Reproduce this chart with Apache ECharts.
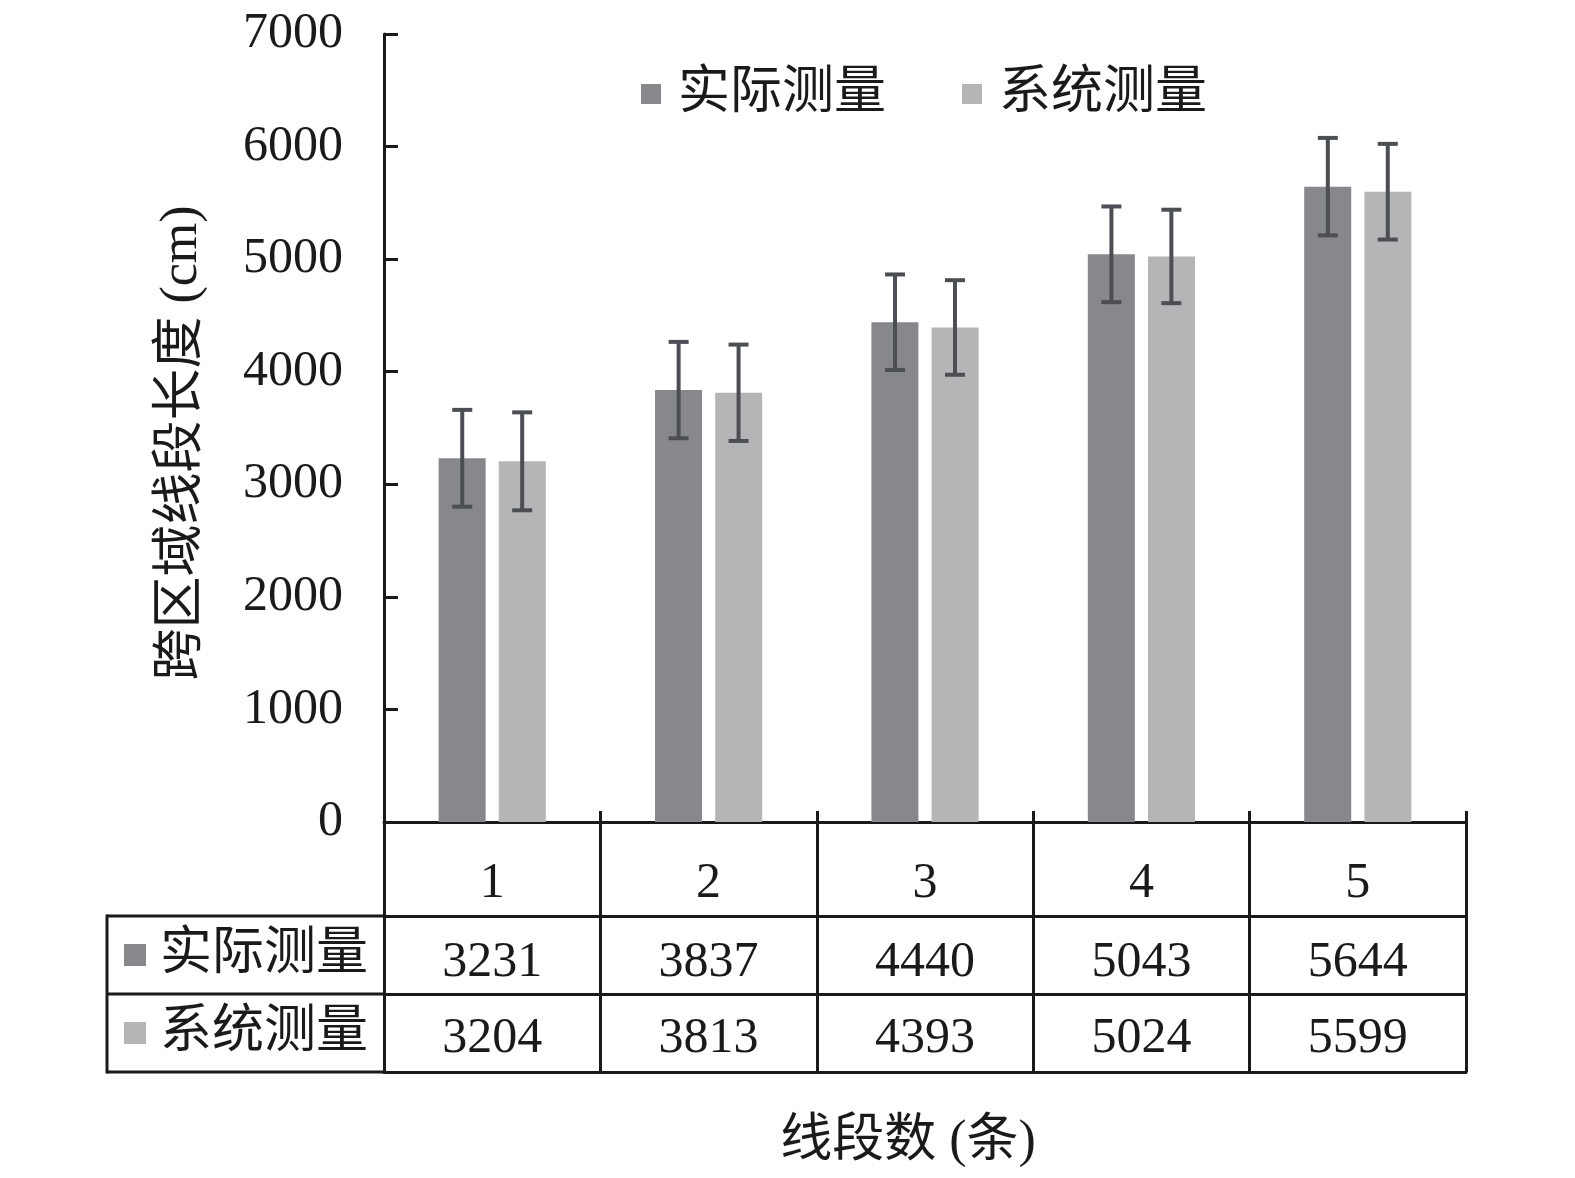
<!DOCTYPE html>
<html><head><meta charset="utf-8">
<script src="https://cdn.jsdelivr.net/npm/echarts@6/dist/echarts.min.js"></script>
<style>html,body{margin:0;padding:0;background:#fff}#c{width:1575px;height:1178px}</style>
</head><body><div id="c"></div>
<script>
// ---- data ----
const categories = ['1', '2', '3', '4', '5'];
const seriesNames = ['实际测量', '系统测量'];
const actualValues = [3231, 3837, 4440, 5043, 5644];
const systemValues = [3204, 3813, 4393, 5024, 5599];
const actualErrors = [430, 428, 424, 425, 433];
const systemErrors = [435, 428, 420, 415, 425];
const yMin = 0, yMax = 7000, yStep = 1000;
const yName = '跨区域线段长度 (cm)';
const xName = '线段数 (条)';

// ---- style ----
const FONT = '"Liberation Serif","Times New Roman","Noto Sans CJK SC",serif';
const NUMFONT = '"Liberation Serif","Times New Roman",serif';
const INK = '#1a1a1a';
const DARK = '#86888c';
const LIGHT = '#b4b5b7';
const ERR = '#4b4e53';
const LW = 3;

const GRID = {left: 384, right: 109, top: 34, bottom: 356};
const AXIS_Y = 1178 - GRID.bottom;   // pixel row of the category axis
const ROW1 = 94, ROW2 = 172, ROW3 = 250; // table line offsets below the axis
const TABLE_LEFT = 107;

const chart = echarts.init(document.getElementById('c'), null, {renderer: 'canvas'});

function errRender(sign) {
  return function (params, api) {
    const i = api.value(0);
    const band = api.size([1, 0])[0];
    const off = sign * band * 0.1385;
    const hi = api.coord([i, api.value(2)]);
    const lo = api.coord([i, api.value(1)]);
    const x = hi[0] + off;
    const cap = 10;
    const style = {stroke: ERR, lineWidth: 4};
    return {type: 'group', children: [
      {type: 'line', shape: {x1: x, y1: hi[1], x2: x, y2: lo[1]}, style: style},
      {type: 'line', shape: {x1: x - cap, y1: hi[1], x2: x + cap, y2: hi[1]}, style: style},
      {type: 'line', shape: {x1: x - cap, y1: lo[1], x2: x + cap, y2: lo[1]}, style: style}
    ]};
  };
}

const errData = (vals, errs) => vals.map((v, i) => [i, v - errs[i], v + errs[i]]);

const baseX = {
  type: 'category', data: categories, gridIndex: 0, position: 'bottom',
  boundaryGap: true, splitLine: {show: false}
};
const lineStyle = {color: INK, width: LW};

const option = {
  backgroundColor: '#fff',
  animation: false,
  textStyle: {fontFamily: FONT},
  grid: GRID,
  legend: {
    data: seriesNames, left: 636, top: 63, icon: 'rect',
    itemWidth: 20, itemHeight: 20, itemGap: 76,
    textStyle: {fontSize: 52, color: INK, fontFamily: FONT, padding: [0, 0, 0, 12]}
  },
  xAxis: [
    Object.assign({}, baseX, {
      axisLine: {show: true, lineStyle: lineStyle},
      axisTick: {show: true, inside: true, length: 11, interval: 0, lineStyle: lineStyle},
      axisLabel: {fontSize: 50, color: INK, fontFamily: NUMFONT, margin: 37, interval: 0}
    }),
    Object.assign({}, baseX, {
      axisLine: {show: false},
      axisTick: {show: true, inside: false, length: ROW3, interval: 0, lineStyle: lineStyle},
      axisLabel: {show: false}
    }),
    Object.assign({}, baseX, {
      offset: ROW1,
      axisLine: {show: true, lineStyle: lineStyle},
      axisTick: {show: false},
      axisLabel: {fontSize: 50, color: INK, fontFamily: NUMFONT, margin: 22, interval: 0,
        formatter: (v, i) => String(actualValues[i])}
    }),
    Object.assign({}, baseX, {
      offset: ROW2,
      axisLine: {show: true, lineStyle: lineStyle},
      axisTick: {show: false},
      axisLabel: {fontSize: 50, color: INK, fontFamily: NUMFONT, margin: 20, interval: 0,
        formatter: (v, i) => String(systemValues[i])}
    }),
    Object.assign({}, baseX, {
      offset: ROW3,
      axisLine: {show: true, lineStyle: lineStyle},
      axisTick: {show: false},
      axisLabel: {show: false},
      name: xName, nameLocation: 'middle', nameGap: 44,
      nameTextStyle: {fontSize: 52, color: INK, fontFamily: FONT, padding: [0, 34, 0, 0]}
    })
  ],
  yAxis: {
    type: 'value', min: yMin, max: yMax, interval: yStep,
    axisLine: {show: true, lineStyle: lineStyle},
    axisTick: {show: true, inside: true, length: 14, lineStyle: lineStyle},
    splitLine: {show: false},
    axisLabel: {fontSize: 50, color: INK, fontFamily: NUMFONT, margin: 41,
      formatter: v => String(v)},
    name: yName, nameLocation: 'middle', nameRotate: 90, nameGap: 176,
    nameTextStyle: {fontSize: 52, color: INK, fontFamily: FONT, padding: [0, 30, 0, 0]}
  },
  series: [
    {name: seriesNames[0], type: 'bar', data: actualValues, barWidth: 47, barGap: '28%',
      itemStyle: {color: DARK}, xAxisIndex: 0, yAxisIndex: 0},
    {name: seriesNames[1], type: 'bar', data: systemValues, barWidth: 47, barGap: '28%',
      itemStyle: {color: LIGHT}, xAxisIndex: 0, yAxisIndex: 0},
    {name: 'err-a', type: 'custom', renderItem: errRender(-1), data: errData(actualValues, actualErrors),
      xAxisIndex: 0, yAxisIndex: 0, z: 5, encode: {x: 0, y: [1, 2]}},
    {name: 'err-b', type: 'custom', renderItem: errRender(1), data: errData(systemValues, systemErrors),
      xAxisIndex: 0, yAxisIndex: 0, z: 5, encode: {x: 0, y: [1, 2]}}
  ],
  graphic: (function () {
    const y1 = AXIS_Y + ROW1, y2 = AXIS_Y + ROW2, y3 = AXIS_Y + ROW3;
    const ls = {stroke: INK, lineWidth: LW};
    const g = [];
    [y1, y2, y3].forEach(y => g.push({type: 'line', shape: {x1: TABLE_LEFT, y1: y, x2: GRID.left, y2: y}, style: ls}));
    g.push({type: 'line', shape: {x1: TABLE_LEFT, y1: y1 - 1.5, x2: TABLE_LEFT, y2: y3 + 1.5}, style: ls});
    [[DARK, seriesNames[0], (y1 + y2) / 2], [LIGHT, seriesNames[1], (y2 + y3) / 2]].forEach(r => {
      g.push({type: 'rect', shape: {x: 124, y: r[2] - 11, width: 22, height: 22}, style: {fill: r[0]}});
      g.push({type: 'text', x: 160, y: r[2], style: {text: r[1], fontSize: 52, fontFamily: FONT,
        fill: INK, verticalAlign: 'middle', align: 'left'}});
    });
    return g;
  })()
};
chart.setOption(option);
</script>
</body></html>
